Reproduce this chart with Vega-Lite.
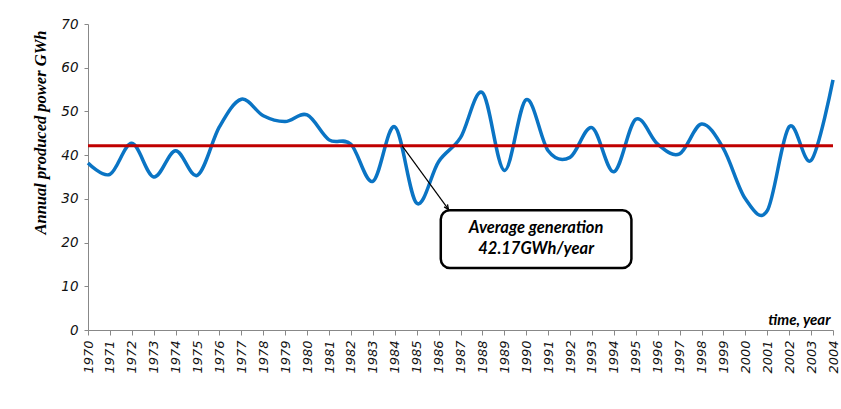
{
  "$schema": "https://vega.github.io/schema/vega-lite/v6.json",
  "width": 745,
  "height": 306,
  "autosize": {"type": "none"},
  "padding": {"left": 88, "top": 24, "right": 8, "bottom": 79},
  "background": "white",
  "config": {"view": {"stroke": null}},
  "datasets": {
    "gen": [
      {"year": 1970, "gwh": 38.2}, {"year": 1971, "gwh": 35.6}, {"year": 1972, "gwh": 42.7},
      {"year": 1973, "gwh": 35.0}, {"year": 1974, "gwh": 41.0}, {"year": 1975, "gwh": 35.4},
      {"year": 1976, "gwh": 46.5}, {"year": 1977, "gwh": 52.8}, {"year": 1978, "gwh": 49.0},
      {"year": 1979, "gwh": 47.7}, {"year": 1980, "gwh": 49.2}, {"year": 1981, "gwh": 43.5},
      {"year": 1982, "gwh": 42.5}, {"year": 1983, "gwh": 34.0}, {"year": 1984, "gwh": 46.5},
      {"year": 1985, "gwh": 29.0}, {"year": 1986, "gwh": 38.5}, {"year": 1987, "gwh": 44.0},
      {"year": 1988, "gwh": 54.3}, {"year": 1989, "gwh": 36.5}, {"year": 1990, "gwh": 52.7},
      {"year": 1991, "gwh": 41.0}, {"year": 1992, "gwh": 39.5}, {"year": 1993, "gwh": 46.3},
      {"year": 1994, "gwh": 36.2}, {"year": 1995, "gwh": 48.2}, {"year": 1996, "gwh": 42.5},
      {"year": 1997, "gwh": 40.3}, {"year": 1998, "gwh": 47.1}, {"year": 1999, "gwh": 41.5},
      {"year": 2000, "gwh": 30.0}, {"year": 2001, "gwh": 27.3}, {"year": 2002, "gwh": 46.5},
      {"year": 2003, "gwh": 38.8}, {"year": 2004, "gwh": 57.2}
    ],
    "avg": [{"year": 1970, "gwh": 42.17}, {"year": 2004, "gwh": 42.17}],
    "arrow": [{"x": 1984.33, "y": 42.17, "x2": 1986.45, "y2": 27.6}],
    "box": [{"x": 1986.1, "x2": 1994.8, "y": 27.4, "y2": 14.2}],
    "label": [
      {"x": 1990.45, "y": 23.4, "text": "Average generation"},
      {"x": 1990.45, "y": 18.5, "text": "42.17GWh/year"}
    ]
  },
  "encoding": {
    "x": {
      "field": "year", "type": "quantitative",
      "scale": {"domain": [1970, 2004], "nice": false, "zero": false},
      "axis": {
        "title": "time, year",
        "titleAnchor": "end",
        "titleAlign": "right",
        "titleX": 742,
        "titleY": -18,
        "titleFont": "Lato",
        "titleFontSize": 15,
        "titleFontWeight": "bold",
        "titleFontStyle": "italic",
        "titleColor": "black",
        "values": [1970,1971,1972,1973,1974,1975,1976,1977,1978,1979,1980,1981,1982,1983,1984,1985,1986,1987,1988,1989,1990,1991,1992,1993,1994,1995,1996,1997,1998,1999,2000,2001,2002,2003,2004],
        "format": "d",
        "labelAngle": -90,
        "labelAlign": "right",
        "labelBaseline": "middle",
        "labelFont": "DejaVu Sans",
        "labelFontStyle": "italic",
        "labelFontSize": 13,
        "labelColor": "#111111",
        "labelPadding": 5,
        "labelOverlap": false,
        "labelFlush": false,
        "domainColor": "#888888",
        "tickColor": "#888888",
        "tickSize": 5,
        "grid": false
      }
    }
  },
  "layer": [
    {
      "data": {"name": "gen"},
      "mark": {"type": "line", "interpolate": "cardinal", "color": "#0a74c4", "strokeWidth": 3.5},
      "encoding": {
        "y": {
          "field": "gwh", "type": "quantitative",
          "scale": {"domain": [0, 70], "nice": false},
          "axis": {
            "title": "Annual produced power GWh",
            "titleFont": "Liberation Serif",
            "titleFontSize": 16.5,
            "titleFontWeight": "bold",
            "titleFontStyle": "italic",
            "titleColor": "black",
            "titleAnchor": "end",
            "titleY": 6,
            "titlePadding": 12,
            "values": [0, 10, 20, 30, 40, 50, 60, 70],
            "labelFont": "DejaVu Sans",
            "labelFontStyle": "italic",
            "labelFontSize": 13.5,
            "labelColor": "#111111",
            "labelPadding": 6,
            "ticks": true,
            "tickSize": 4,
            "tickColor": "#888888",
            "domainColor": "#888888",
            "grid": false
          }
        }
      }
    },
    {
      "data": {"name": "avg"},
      "mark": {"type": "line", "color": "#c00000", "strokeWidth": 3},
      "encoding": {"y": {"field": "gwh", "type": "quantitative"}}
    },
    {
      "data": {"name": "arrow"},
      "mark": {"type": "rule", "color": "black", "strokeWidth": 1.2},
      "encoding": {
        "x": {"field": "x", "type": "quantitative"},
        "x2": {"field": "x2"},
        "y": {"field": "y", "type": "quantitative"},
        "y2": {"field": "y2"}
      }
    },
    {
      "data": {"name": "arrow"},
      "mark": {"type": "point", "shape": "M-0.5,-1.1L0,0L0.5,-1.1", "filled": false, "color": "black", "strokeWidth": 1.3, "size": 70, "angle": -35.5, "opacity": 1},
      "encoding": {
        "x": {"field": "x2", "type": "quantitative"},
        "y": {"field": "y2", "type": "quantitative"}
      }
    },
    {
      "data": {"name": "box"},
      "mark": {"type": "rect", "fill": "white", "stroke": "black", "strokeWidth": 2.5, "cornerRadius": 9},
      "encoding": {
        "x": {"field": "x", "type": "quantitative"},
        "x2": {"field": "x2"},
        "y": {"field": "y", "type": "quantitative"},
        "y2": {"field": "y2"}
      }
    },
    {
      "data": {"name": "label"},
      "mark": {"type": "text", "font": "Lato", "fontSize": 16.5, "fontWeight": "bold", "fontStyle": "italic", "color": "black", "align": "center", "baseline": "middle"},
      "encoding": {
        "x": {"field": "x", "type": "quantitative"},
        "y": {"field": "y", "type": "quantitative"},
        "text": {"field": "text"}
      }
    }
  ]
}
